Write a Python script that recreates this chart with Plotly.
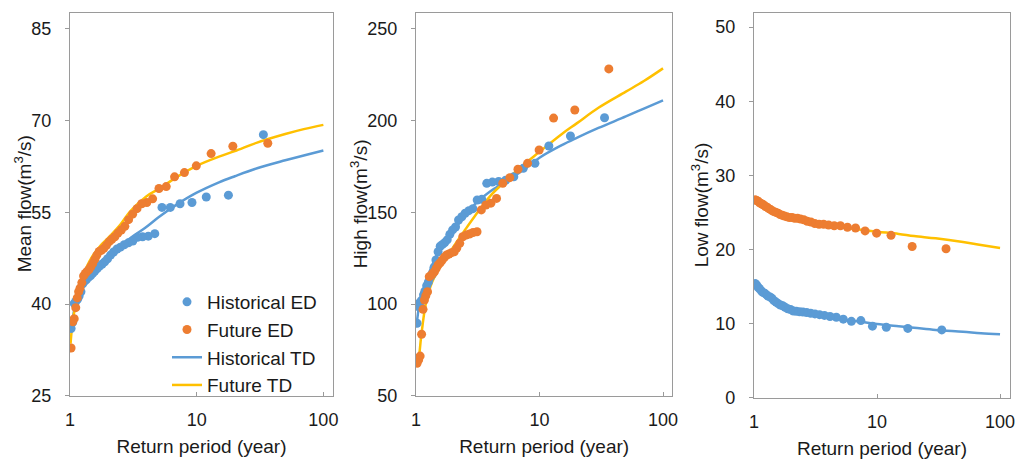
import plotly.graph_objects as go

# ---------------- data ----------------
T_hist = [33.6, 17.8, 11.9, 9.18, 7.39, 6.19, 5.32, 4.67, 4.15, 3.74, 3.41, 3.13, 2.89,
          2.68, 2.50, 2.35, 2.21, 2.09, 1.98, 1.88, 1.79, 1.71, 1.64, 1.57, 1.51, 1.45,
          1.40, 1.35, 1.30, 1.26, 1.22, 1.18, 1.15, 1.11, 1.08, 1.05, 1.02]
T_fut = [36.4, 19.3, 13.0, 9.93, 8.0, 6.69, 5.75, 5.04, 4.49, 4.04, 3.68, 3.38, 3.12,
         2.90, 2.71, 2.54, 2.39, 2.26, 2.14, 2.04, 1.94, 1.85, 1.77, 1.70, 1.63, 1.57,
         1.51, 1.46, 1.41, 1.36, 1.32, 1.28, 1.24, 1.20, 1.17, 1.14, 1.11, 1.08, 1.05, 1.02]

mean_hist = [67.7, 57.8, 57.5, 56.6, 56.4, 55.8, 55.8, 51.5, 51.1, 51.0, 50.9, 50.3, 50.0,
             49.7, 49.3, 49.0, 48.5, 48.0, 47.4, 46.9, 46.5, 46.2, 45.8, 45.4, 45.0, 44.6,
             44.4, 44.0, 43.7, 43.3, 42.0, 41.3, 40.8, 40.4, 40.1, 37.0, 36.0]
mean_fut = [66.3, 65.8, 64.6, 62.6, 61.5, 60.8, 59.2, 58.9, 57.2, 56.6, 56.4, 55.6, 54.7,
            53.8, 52.7, 52.1, 51.6, 51.0, 50.6, 50.2, 49.6, 49.1, 48.8, 48.6, 48.0, 47.3,
            46.6, 46.1, 45.6, 45.3, 45.0, 44.6, 43.5, 42.6, 42.0, 41.0, 39.4, 37.6, 37.1, 32.8]

high_hist = [201.6, 191.6, 186.2, 176.7, 174.0, 169.4, 167.5, 166.8, 166.5, 165.8, 157.1,
             156.7, 152.0, 150.9, 149.5, 147.6, 145.8, 142.0, 140.4, 138.0, 135.0, 133.5,
             132.5, 131.5, 128.5, 124.0, 120.0, 116.0, 114.5, 112.0, 110.0, 107.0, 105.0,
             102.0, 101.0, 98.5, 89.5]
high_fut = [228.2, 205.8, 201.4, 184.0, 176.7, 173.5, 168.9, 165.8, 157.6, 155.0, 154.0,
            151.3, 139.4, 139.0, 138.2, 137.6, 136.7, 133.1, 130.5, 128.5, 128.0, 127.3,
            126.7, 125.5, 124.0, 122.5, 121.3, 119.5, 117.6, 116.5, 115.5, 114.9, 106.7,
            104.5, 102.2, 97.1, 83.5, 71.6, 69.5, 67.7]

low_hist = [9.15, 9.35, 9.5, 9.65, 10.4, 10.3, 10.6, 10.85, 10.95, 11.1, 11.2, 11.3, 11.4,
            11.5, 11.55, 11.6, 11.65, 11.7, 11.9, 12.0, 12.2, 12.4, 12.5, 12.7, 12.9, 13.1,
            13.4, 13.6, 13.7, 13.9, 14.1, 14.2, 14.4, 14.7, 14.9, 15.2, 15.4]
low_fut = [20.1, 20.4, 21.9, 22.2, 22.5, 22.9, 23.0, 23.2, 23.2, 23.3, 23.4, 23.4, 23.5,
           23.7, 23.8, 24.0, 24.1, 24.2, 24.2, 24.3, 24.3, 24.4, 24.5, 24.6, 24.7, 24.9,
           25.0, 25.1, 25.2, 25.4, 25.5, 25.7, 25.8, 26.0, 26.1, 26.2, 26.3, 26.5, 26.6, 26.7]

# theoretical distribution curves
T_td = [1.01, 1.05, 1.1, 1.2, 1.35, 1.5, 1.75, 2, 2.5, 3, 4, 5, 7, 10, 15, 20, 30, 50, 70, 100]
mean_hist_td = [35.8, 37.5, 40.0, 42.3, 44.2, 45.6, 47.0, 47.9, 49.6, 50.8, 52.6, 54.2,
                56.3, 58.2, 59.9, 60.9, 62.2, 63.5, 64.3, 65.1]
mean_fut_td = [33.5, 37.2, 39.5, 43.0, 46.0, 47.8, 49.6, 50.8, 53.0, 55.2, 57.6, 58.8,
               60.8, 62.6, 64.1, 65.0, 66.4, 67.8, 68.6, 69.3]
high_hist_td = [88, 97, 102, 112, 121, 128, 135, 140, 148, 154.5, 161.5, 165.5, 172,
                179.8, 186.5, 190.6, 196.0, 202.3, 206.6, 211.0]
high_fut_td = [66, 70, 82, 100, 112, 118, 125, 131, 140.5, 148, 159, 165.5, 174.5, 183,
               192.5, 198.5, 207.0, 215.8, 221.6, 228.5]
low_hist_td = [15.7, 15.1, 14.6, 14.0, 13.4, 12.9, 12.3, 11.9, 11.5, 11.2, 10.9, 10.6,
               10.3, 9.95, 9.65, 9.45, 9.15, 8.9, 8.7, 8.55]
low_fut_td = [26.8, 26.5, 26.2, 25.8, 25.3, 25.0, 24.6, 24.3, 23.9, 23.6, 23.3, 23.0,
              22.7, 22.4, 22.1, 21.8, 21.5, 21.0, 20.6, 20.2]

x_ticks = [1, 10, 100]
y_ticks = [[25, 40, 55, 70, 85], [50, 100, 150, 200, 250], [0, 10, 20, 30, 40, 50]]
y_titles = ["Mean flow(m<sup>3</sup>/s)", "High flow(m<sup>3</sup>/s)", "Low flow(m<sup>3</sup>/s)"]
x_title = "Return period (year)"
names = ["Historical ED", "Future ED", "Historical TD", "Future TD"]

BLUE = "#5B9BD5"
ORANGE = "#ED7D31"
YELLOW = "#FFC000"
FONT = "Arial, 'Liberation Sans', sans-serif"
TXT = "#1a1a1a"
AX = "#9a9a9a"

W, H = 1029, 462
# pixel geometry of the three plot areas: (left, right, top, bottom)
boxes = [(70, 333, 13, 395.7), (416, 672.3, 13, 395.7), (754, 1010, 13, 397.7)]
y_ranges = [[25, 87.6], [50, 258.7], [0, 51.9]]
x_ranges = [[0, 2.076], [0, 2.075], [0, 2.081]]
title_x = [23, 359, 700]

panels = [
    (mean_hist, mean_fut, mean_hist_td, mean_fut_td),
    (high_hist, high_fut, high_hist_td, high_fut_td),
    (low_hist, low_fut, low_hist_td, low_fut_td),
]

fig = go.Figure()
for i, (hh, ff, htd, ftd) in enumerate(panels):
    xa = "x" if i == 0 else f"x{i+1}"
    ya = "y" if i == 0 else f"y{i+1}"
    show = i == 0
    # curves first so that the empirical points sit on top of them
    fig.add_trace(go.Scatter(x=T_td, y=htd, mode="lines", name=names[2],
                             line=dict(color=BLUE, width=2.5, shape="spline"),
                             xaxis=xa, yaxis=ya, showlegend=show, legendrank=3))
    fig.add_trace(go.Scatter(x=T_td, y=ftd, mode="lines", name=names[3],
                             line=dict(color=YELLOW, width=2.5, shape="spline"),
                             xaxis=xa, yaxis=ya, showlegend=show, legendrank=4))
    fig.add_trace(go.Scatter(x=T_hist, y=hh, mode="markers", name=names[0],
                             marker=dict(color=BLUE, size=9), xaxis=xa, yaxis=ya,
                             showlegend=show, legendrank=1))
    fig.add_trace(go.Scatter(x=T_fut, y=ff, mode="markers", name=names[1],
                             marker=dict(color=ORANGE, size=9), xaxis=xa, yaxis=ya,
                             showlegend=show, legendrank=2))

layout = dict(
    width=W, height=H, margin=dict(l=0, r=0, t=0, b=0, autoexpand=False),
    paper_bgcolor="white", plot_bgcolor="white",
    font=dict(family=FONT, size=18, color=TXT),
    legend=dict(x=167 / W, y=1 - 283 / H, xanchor="left", yanchor="top",
                bgcolor="rgba(0,0,0,0)", font=dict(size=19, color=TXT),
                tracegroupgap=0, itemwidth=30),
    annotations=[],
)
for i, (l, r, t, b) in enumerate(boxes):
    sx = "" if i == 0 else str(i + 1)
    layout[f"xaxis{sx}"] = dict(
        type="log", range=x_ranges[i], domain=[l / W, r / W], automargin=False,
        anchor=f"y{sx}", tickvals=x_ticks, ticktext=[str(v) for v in x_ticks],
        ticks="inside", ticklen=4, tickcolor=AX, showgrid=False, zeroline=False,
        showline=True, linecolor=AX, linewidth=1.3, mirror=True,
        tickfont=dict(size=18, color=TXT), ticklabelstandoff=8,
        title=dict(text=x_title, font=dict(size=19, color=TXT), standoff=10),
    )
    layout[f"yaxis{sx}"] = dict(
        range=y_ranges[i], domain=[1 - b / H, 1 - t / H], anchor=f"x{sx}",
        automargin=False,
        tickvals=y_ticks[i], ticks="outside", ticklen=4, tickcolor=AX,
        showgrid=False, zeroline=False, showline=True, linecolor=AX, linewidth=1.3,
        mirror=True, tickfont=dict(size=18, color=TXT), ticklabelstandoff=10,
    )
    layout["annotations"].append(dict(
        text=y_titles[i], x=title_x[i] / W, y=1 - (t + b) / 2 / H, xref="paper",
        yref="paper", textangle=-90, showarrow=False, xanchor="center",
        yanchor="middle", font=dict(size=19, color=TXT)))

fig.update_layout(**layout)
fig.write_html("out.html", config={"displayModeBar": False},
               post_script="document.body.style.margin='0';document.body.style.padding='0';")
